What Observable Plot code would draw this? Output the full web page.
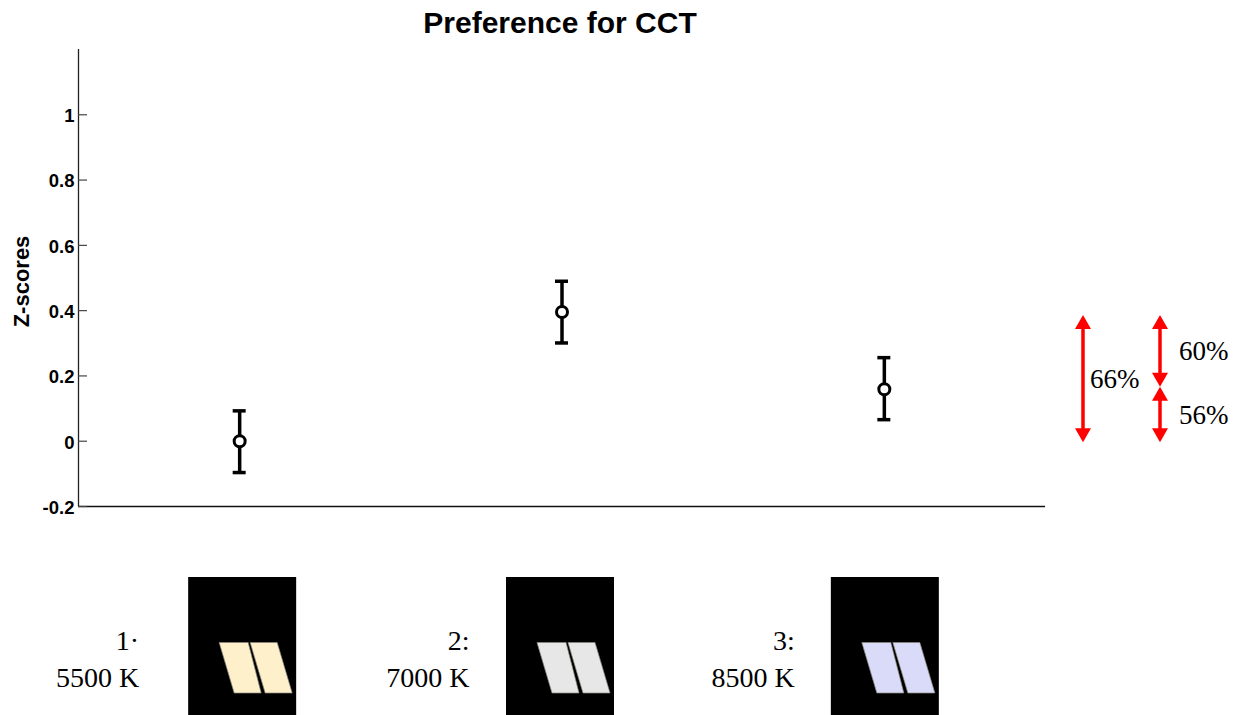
<!DOCTYPE html>
<html>
<head>
<meta charset="utf-8">
<script src="https://cdn.jsdelivr.net/npm/d3@7"></script>
<script src="https://cdn.jsdelivr.net/npm/@observablehq/plot@0.6"></script>
<style>
  html, body { margin: 0; padding: 0; background: #fff; }
  #chart { width: 1241px; height: 715px; overflow: hidden; }
</style>
</head>
<body>
<div id="chart"></div>
<script>
// ---- data ----
const conditions = [1, 2, 3];
const condLabels = ["1\u00B7", "2:", "3:"];
const cctLabels = ["5500 K", "7000 K", "8500 K"];
const swatchColors = ["#fdf0ca", "#e7e7e7", "#d9dbf8"];
const means = [0.0, 0.396, 0.159];
const errLow = [-0.096, 0.301, 0.066];
const errHigh = [0.093, 0.490, 0.256];
const yTicks = [-0.2, 0, 0.2, 0.4, 0.6, 0.8, 1];
const yTickLabels = ["-0.2", "0", "0.2", "0.4", "0.6", "0.8", "1"];
const prefLabels = ["66%", "60%", "56%"];
const prefFrom = [-0.005, 0.165, -0.005];
const prefTo = [0.385, 0.385, 0.165];

// ---- layout ----
const W = 1241, H = 715;
const mL = 78, mR = 196, mT = 49, mB = 209;
const sans = "'Liberation Sans', Arial, Helvetica, sans-serif";
const serif = "'Liberation Serif', 'Times New Roman', Times, serif";

const rows = conditions.map((c, i) => ({c, mean: means[i], lo: errLow[i], hi: errHigh[i]}));

const plot = Plot.plot({
  width: W, height: H,
  marginLeft: mL, marginRight: mR, marginTop: mT, marginBottom: mB,
  style: {fontFamily: sans, background: "white", overflow: "visible", color: "black"},
  x: {type: "linear", domain: [0.5, 3.5], axis: null},
  y: {domain: [-0.2, 1.2]},
  marks: [
    // axis lines
    Plot.ruleX([0.5], {stroke: "#222", strokeWidth: 1.3}),
    Plot.ruleY([-0.2], {stroke: "#111", strokeWidth: 1.5}),
    // inward ticks
    Plot.ruleY(yTicks, {y: d => d, x1: 0.5, x2: 0.5, insetRight: -9, stroke: "#444", strokeWidth: 1.2}),
    // tick labels
    Plot.axisY({ticks: yTicks, tickSize: 0, tickPadding: 4, label: null,
      tickFormat: d => yTickLabels[yTicks.indexOf(d)],
      fontSize: 18.5, fontWeight: "bold", dy: 1.5}),
    // title
    Plot.text(["Preference for CCT"], {frameAnchor: "top", lineAnchor: "bottom", dy: -17, dx: -2,
      fontSize: 30, fontWeight: "bold"}),
    // error bars
    Plot.ruleX(rows, {x: "c", y1: "lo", y2: "hi", stroke: "black", strokeWidth: 3.5}),
    Plot.ruleY(rows, {y: "hi", x1: "c", x2: "c", insetLeft: -6.5, insetRight: -6.5, stroke: "black", strokeWidth: 3.5}),
    Plot.ruleY(rows, {y: "lo", x1: "c", x2: "c", insetLeft: -6.5, insetRight: -6.5, stroke: "black", strokeWidth: 3.5}),
    Plot.dot(rows, {x: "c", y: "mean", r: 5.5, fill: "white", stroke: "black", strokeWidth: 3})
  ]
});

const xs = plot.scale("x"), ys = plot.scale("y");
const svg = d3.select(plot);

// y-axis title
svg.append("text")
  .attr("transform", `translate(21,${(mT + (H - mB)) / 2 + 4}) rotate(-90)`)
  .attr("text-anchor", "middle").attr("dominant-baseline", "central")
  .attr("font-family", sans).attr("font-size", 22).attr("font-weight", "bold")
  .attr("fill", "black").text("Z-scores");

// ---- preference arrows (outside the axes) ----
const frameRight = W - mR;
const arrowX = [frameRight + 38, frameRight + 115, frameRight + 115];
const arrowTextDx = [7, 19, 19];
const headW = 16, headL = 14;
const ga = svg.append("g").attr("class", "pref-arrows");
prefLabels.forEach((lab, i) => {
  const x = arrowX[i];
  const yTop = ys.apply(prefTo[i]);
  const yBot = ys.apply(prefFrom[i]);
  ga.append("line").attr("x1", x).attr("x2", x).attr("y1", yTop + headL - 1).attr("y2", yBot - headL + 1)
    .attr("stroke", "#ff0000").attr("stroke-width", 3.5);
  ga.append("path").attr("d", `M${x},${yTop}L${x - headW / 2},${yTop + headL}L${x + headW / 2},${yTop + headL}Z`).attr("fill", "#ff0000");
  ga.append("path").attr("d", `M${x},${yBot}L${x - headW / 2},${yBot - headL}L${x + headW / 2},${yBot - headL}Z`).attr("fill", "#ff0000");
  ga.append("text").attr("x", x + arrowTextDx[i]).attr("y", (yTop + yBot) / 2 + 9)
    .attr("text-anchor", "start")
    .attr("font-family", serif).attr("font-size", 27).attr("fill", "black").text(lab);
});

// ---- stimulus thumbnails under the axis ----
const thumbTop = 577, thumbW = 108, thumbH = 140;
const thumbDx = [-51, -55.5, -53];
const labelDx = [100, 92, 89];
const gt = svg.append("g").attr("class", "thumbs");
conditions.forEach((c, i) => {
  const cx = xs.apply(c);
  const L = cx + thumbDx[i], T = thumbTop;
  gt.append("rect").attr("x", L).attr("y", T).attr("width", thumbW).attr("height", thumbH).attr("fill", "black");
  const shapes = [[31, 60, 73, 46], [62, 89, 104, 77]];
  shapes.forEach(([tl, tr, br, bl]) => {
    gt.append("path")
      .attr("d", `M${L + tl},${T + 65.5}L${L + tr},${T + 65.5}L${L + br},${T + 116}L${L + bl},${T + 116}Z`)
      .attr("fill", swatchColors[i]).attr("stroke", "#8a8a80").attr("stroke-width", 0.7);
  });
  gt.append("text").attr("x", cx - labelDx[i]).attr("y", 650).attr("text-anchor", "end")
    .attr("font-family", serif).attr("font-size", 28).attr("fill", "black").text(condLabels[i]);
  gt.append("text").attr("x", cx - labelDx[i]).attr("y", 687).attr("text-anchor", "end")
    .attr("font-family", serif).attr("font-size", 28).attr("fill", "black").text(cctLabels[i]);
});

document.getElementById("chart").appendChild(plot);
</script>
</body>
</html>
